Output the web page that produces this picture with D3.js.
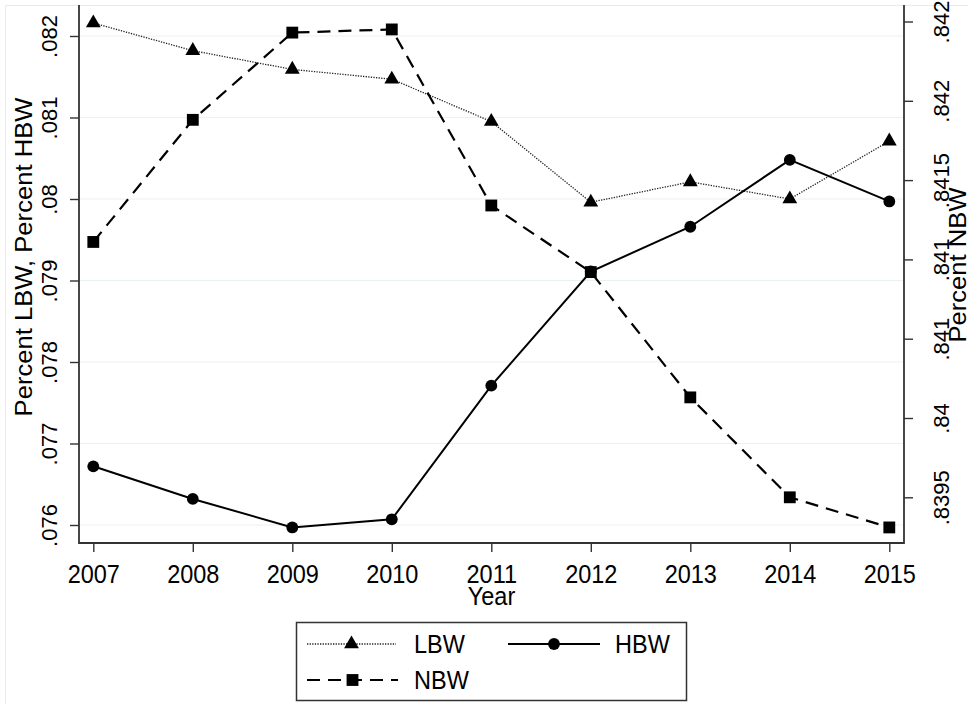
<!DOCTYPE html>
<html>
<head>
<meta charset="utf-8">
<script src="https://cdn.jsdelivr.net/npm/d3@7"></script>
<style>
  html, body { margin: 0; padding: 0; background: #fff; }
  svg { display: block; font-family: "Liberation Sans", Arial, sans-serif; }
</style>
</head>
<body>
<svg id="chart" width="968" height="704"></svg>
<script>
// Birth-weight shares by year
const years = [2007, 2008, 2009, 2010, 2011, 2012, 2013, 2014, 2015];
const lbw = [0.08216, 0.08182, 0.08159, 0.08147, 0.08095, 0.07996, 0.08021, 0.08000, 0.08071];
const hbw = [0.07672, 0.07632, 0.07597, 0.07607, 0.07771, 0.07911, 0.07966, 0.08048, 0.07997];
const nbw = [0.84111, 0.84188, 0.84243, 0.84245, 0.84134, 0.84092, 0.84013, 0.83950, 0.83931];

const leftTicks = [0.076, 0.077, 0.078, 0.079, 0.080, 0.081, 0.082];
const leftTickLabels = [".076", ".077", ".078", ".079", ".08", ".081", ".082"];
const rightTicks = [0.8395, 0.8400, 0.8405, 0.8410, 0.8415, 0.8420, 0.8425];
const rightTickLabels = [".8395", ".84", ".841", ".841", ".8415", ".842", ".842"];

const svg = d3.select("#chart");
const FS = 23.5, SY = 1.09;   // font size and vertical stretch of the lettering
const FS_TICK_V = 22;         // vertical tick labels

const plot = { left: 79, right: 904, top: 5, bottom: 543 };

const x = d3.scaleLinear().domain([2007, 2015]).range([93.3, 889.3]);
const yL = d3.scaleLinear().domain([0.076, 0.082]).range([525, 36]);
const yR = d3.scaleLinear().domain([0.8395, 0.8425]).range([497.3, 21.5]);

// faint outer frame
svg.append("path")
  .attr("d", "M5.5,704 V5.5 H968")
  .attr("fill", "none").attr("stroke", "#e6ebee").attr("stroke-width", 1);

// horizontal grid at left-axis ticks
svg.append("g").selectAll("line").data(leftTicks).join("line")
  .attr("x1", plot.left).attr("x2", plot.right)
  .attr("y1", d => yL(d)).attr("y2", d => yL(d))
  .attr("stroke", "#eaf1f2").attr("stroke-width", 1);

// axes
const axisColor = "#333";
function styleAxis(g) {
  g.select(".domain").remove();
  g.selectAll(".tick line").attr("stroke", axisColor).attr("stroke-width", 1.4);
  g.selectAll(".tick text").attr("fill", "#000");
}

const gL = svg.append("g").attr("transform", `translate(${plot.left},0)`)
  .call(d3.axisLeft(yL).tickValues(leftTicks).tickSize(9)
        .tickFormat((d, i) => leftTickLabels[i]));
styleAxis(gL);
gL.selectAll(".tick text")
  .style("font-size", FS_TICK_V + "px")
  .attr("x", null).attr("dy", null).attr("text-anchor", "middle")
  .attr("transform", `translate(-22,0) rotate(-90)`);

const gR = svg.append("g").attr("transform", `translate(${plot.right},0)`)
  .call(d3.axisRight(yR).tickValues(rightTicks).tickSize(9)
        .tickFormat((d, i) => rightTickLabels[i]));
styleAxis(gR);
gR.selectAll(".tick text")
  .style("font-size", FS_TICK_V + "px")
  .attr("x", null).attr("dy", null).attr("text-anchor", "middle")
  .attr("transform", `translate(45,0) rotate(-90)`);

const gB = svg.append("g").attr("transform", `translate(0,${plot.bottom})`)
  .call(d3.axisBottom(x).tickValues(years).tickSize(9).tickFormat(d3.format("d")));
styleAxis(gB);
gB.selectAll(".tick text")
  .style("font-size", FS + "px")
  .attr("y", null).attr("dy", null).attr("text-anchor", "middle")
  .attr("transform", `translate(0,40) scale(1,${SY})`);

// axis lines
svg.append("path")
  .attr("d", `M${plot.left},${plot.top} V${plot.bottom} H${plot.right} V${plot.top}`)
  .attr("fill", "none").attr("stroke", axisColor).attr("stroke-width", 1.8);

// axis titles
svg.append("text").text("Percent LBW, Percent HBW")
  .attr("text-anchor", "middle").style("font-size", FS + "px")
  .attr("transform", `translate(32,257) rotate(-90) scale(${SY},1)`);
svg.append("text").text("Percent NBW")
  .attr("text-anchor", "middle").style("font-size", FS + "px")
  .attr("transform", `translate(966,265) rotate(-90) scale(${SY},1)`);
svg.append("text").text("Year")
  .attr("text-anchor", "middle").style("font-size", FS + "px")
  .attr("transform", `translate(${(plot.left + plot.right) / 2},605) scale(1,${SY})`);

// series
const series = [
  { name: "LBW", values: lbw, y: yL, dash: "1.3,1.3", width: 1.3, color: "#222", symbol: d3.symbolTriangle, size: 95 },
  { name: "HBW", values: hbw, y: yL, dash: null, width: 2, color: "#000", symbol: d3.symbolCircle, size: 110 },
  { name: "NBW", values: nbw, y: yR, dash: "13,8", width: 2.2, color: "#000", symbol: d3.symbolSquare, size: 140 }
];

series.forEach(s => {
  const pts = years.map((yr, i) => [x(yr), s.y(s.values[i])]);
  svg.append("path")
    .attr("d", d3.line()(pts))
    .attr("fill", "none").attr("stroke", s.color)
    .attr("stroke-width", s.width)
    .attr("stroke-dasharray", s.dash);
  svg.append("g").selectAll("path").data(pts).join("path")
    .attr("transform", d => `translate(${d[0]},${d[1]})`)
    .attr("d", d3.symbol(s.symbol, s.size))
    .attr("fill", "#000");
});

// legend
const lg = svg.append("g");
lg.append("rect").attr("x", 296.5).attr("y", 622.5).attr("width", 390).attr("height", 78)
  .attr("fill", "#fff").attr("stroke", "#333").attr("stroke-width", 1.5);

const legendItems = [
  { s: series[0], x0: 307, x1: 396, tx: 414, y: 644 },
  { s: series[1], x0: 508, x1: 600, tx: 615, y: 644 },
  { s: series[2], x0: 307, x1: 398, tx: 414, y: 680 }
];
legendItems.forEach(it => {
  lg.append("line").attr("x1", it.x0).attr("x2", it.x1).attr("y1", it.y).attr("y2", it.y)
    .attr("stroke", it.s.color).attr("stroke-width", it.s.width)
    .attr("stroke-dasharray", it.s.dash);
  lg.append("path").attr("transform", `translate(${(it.x0 + it.x1) / 2},${it.y})`)
    .attr("d", d3.symbol(it.s.symbol, it.s.size)).attr("fill", "#000");
  lg.append("text").text(it.s.name).style("font-size", FS + "px")
    .attr("transform", `translate(${it.tx},${it.y + 9}) scale(1,${SY})`);
});
</script>
</body>
</html>
